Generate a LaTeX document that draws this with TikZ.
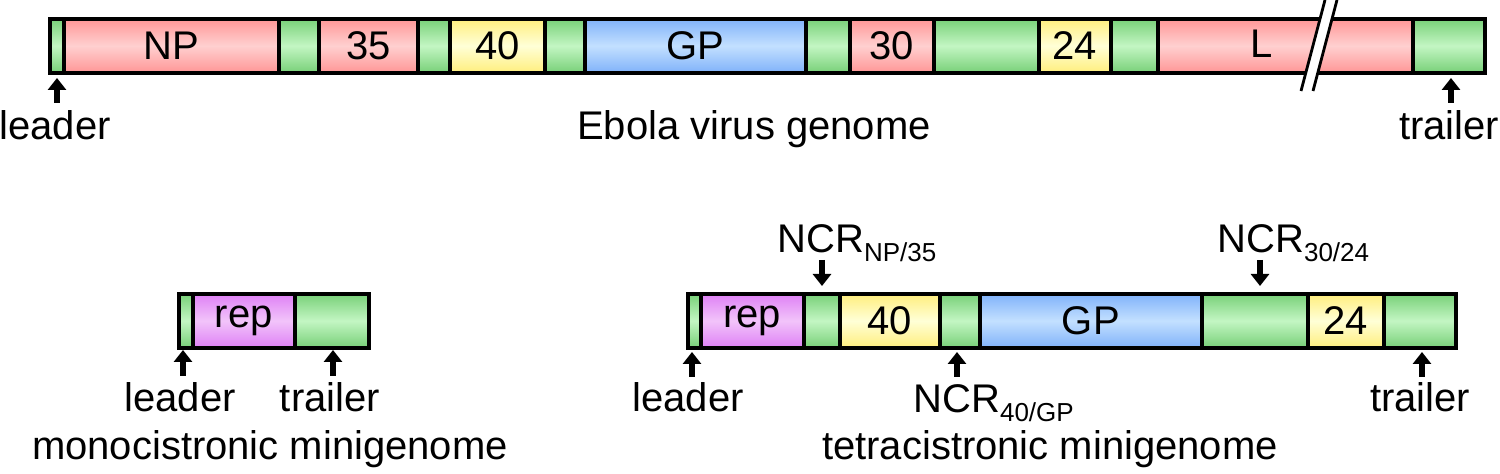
\documentclass[tikz,border=0pt]{standalone}
\usepackage{fontspec}
\setmainfont{Liberation Sans}
\usetikzlibrary{arrows.meta}
\definecolor{rtop}{RGB}{255,150,150}\definecolor{rmid}{RGB}{255,208,208}
\definecolor{gtop}{RGB}{120,208,120}\definecolor{gmid}{RGB}{195,246,195}
\definecolor{ytop}{RGB}{255,238,125}\definecolor{ymid}{RGB}{255,255,215}
\definecolor{btop}{RGB}{128,178,250}\definecolor{bmid}{RGB}{195,224,255}
\definecolor{ptop}{RGB}{222,128,245}\definecolor{pmid}{RGB}{242,196,250}
\newcommand\seg[6]{\node[seg,#1,minimum width={(#4-#3)*0.5pt}] (#2) at (#3,#5) {#6};}
\newcommand\ncr[1]{NCR\raisebox{-4.5pt}{\fontsize{13}{13}\selectfont #1}}
\begin{document}
\begin{tikzpicture}[x=0.5pt,y=-0.5pt,
  seg/.style={draw, line width=1.8pt, anchor=north west, inner sep=0pt, minimum height=27pt, font=\fontsize{20}{24}\selectfont},
  gR/.style={top color=rtop, bottom color=rtop, middle color=rmid},
  gG/.style={top color=gtop, bottom color=gtop, middle color=gmid},
  gY/.style={top color=ytop, bottom color=ytop, middle color=ymid},
  gB/.style={top color=btop, bottom color=btop, middle color=bmid},
  gP/.style={top color=ptop, bottom color=ptop, middle color=pmid},
  lbl/.style={anchor=base, inner sep=0pt, font=\fontsize{20}{24}\selectfont},
  arr/.style={line width=2.8pt, -{Triangle[width=9pt,length=6pt]}}]
\useasboundingbox (0,0) rectangle (1500,474);
% Ebola virus genome
\seg{gG}{tlead}{48}{62}{17}{}
\seg{gR}{tnp}{62}{277}{17}{NP}
\seg{gG}{tn1}{277}{317}{17}{}
\seg{gR}{t35}{317}{416}{17}{35}
\seg{gG}{tn2}{416}{448}{17}{}
\seg{gY}{t40}{448}{543}{17}{40}
\seg{gG}{tn3}{543}{583}{17}{}
\seg{gB}{tgp}{583}{804}{17}{GP}
\seg{gG}{tn4}{804}{848}{17}{}
\seg{gR}{t30}{848}{932}{17}{30}
\seg{gG}{tn5}{932}{1037}{17}{}
\seg{gY}{t24}{1037}{1109}{17}{24}
\seg{gG}{tn6}{1109}{1156}{17}{}
\seg{gR}{tL}{1156}{1411}{17}{}
\seg{gG}{ttrail}{1411}{1483}{17}{}
\node[lbl, anchor=center] (tLlab) at (1262,44) {L};
\fill[white] (1301,91) -- (1325,0) -- (1337,0) -- (1313,91) -- cycle;
\draw[line width=1.4pt] (1301,91) -- (1325,0) (1313,91) -- (1337,0);
\node[lbl] (tleadlab) at (55,140) {leader};
\node[lbl] (ttraillab) at (1449,140) {trailer};
\node[lbl] (ebola) at (754,140) {Ebola virus genome};
\coordinate (ta1) at (57,103); \coordinate (ta1t) at (57,78);
\coordinate (ta2) at (1451,103); \coordinate (ta2t) at (1451,78);
\draw[arr] (ta1) -- (ta1t);
\draw[arr] (ta2) -- (ta2t);
% monocistronic
\seg{gG}{mlead}{177}{191}{292}{}
\seg{gP}{mrep}{191}{293}{292}{rep}
\seg{gG}{mtrail}{293}{367}{292}{}
\node[lbl] (mleadlab) at (180,412) {leader};
\node[lbl] (mtraillab) at (330,412) {trailer};
\node[lbl] (mono) at (270,460) {monocistronic minigenome};
\coordinate (ma1) at (183,376); \coordinate (ma1t) at (183,350);
\coordinate (ma2) at (333,376); \coordinate (ma2t) at (333,350);
\draw[arr] (ma1) -- (ma1t);
\draw[arr] (ma2) -- (ma2t);
% tetracistronic
\seg{gG}{xlead}{686}{699}{292}{}
\seg{gP}{xrep}{699}{802}{292}{rep}
\seg{gG}{xn1}{802}{838}{292}{}
\seg{gY}{x40}{838}{938}{292}{40}
\seg{gG}{xn2}{938}{978}{292}{}
\seg{gB}{xgp}{978}{1200}{292}{GP}
\seg{gG}{xn3}{1200}{1306}{292}{}
\seg{gY}{x24}{1306}{1382}{292}{24}
\seg{gG}{xtrail}{1382}{1454}{292}{}
\node[lbl] (xleadlab) at (688,412) {leader};
\node[lbl] (xtraillab) at (1420,412) {trailer};
\node[lbl] (tetra) at (1050,460) {tetracistronic minigenome};
\node[lbl, anchor=base west] (ncr1) at (777,253) {\ncr{NP/35}};
\node[lbl, anchor=base west] (ncr2) at (1217,253) {\ncr{30/24}};
\node[lbl, anchor=base west] (ncr3) at (913,413) {\ncr{40/GP}};
\coordinate (xa1) at (692,377); \coordinate (xa1t) at (692,352);
\coordinate (xa2) at (957,377); \coordinate (xa2t) at (957,352);
\coordinate (xa3) at (1422,377); \coordinate (xa3t) at (1422,352);
\coordinate (xb1) at (822,260); \coordinate (xb1t) at (822,286);
\coordinate (xb2) at (1260,260); \coordinate (xb2t) at (1260,286);
\draw[arr] (xa1) -- (xa1t);
\draw[arr] (xa2) -- (xa2t);
\draw[arr] (xa3) -- (xa3t);
\draw[arr] (xb1) -- (xb1t);
\draw[arr] (xb2) -- (xb2t);
\end{tikzpicture}
\end{document}
